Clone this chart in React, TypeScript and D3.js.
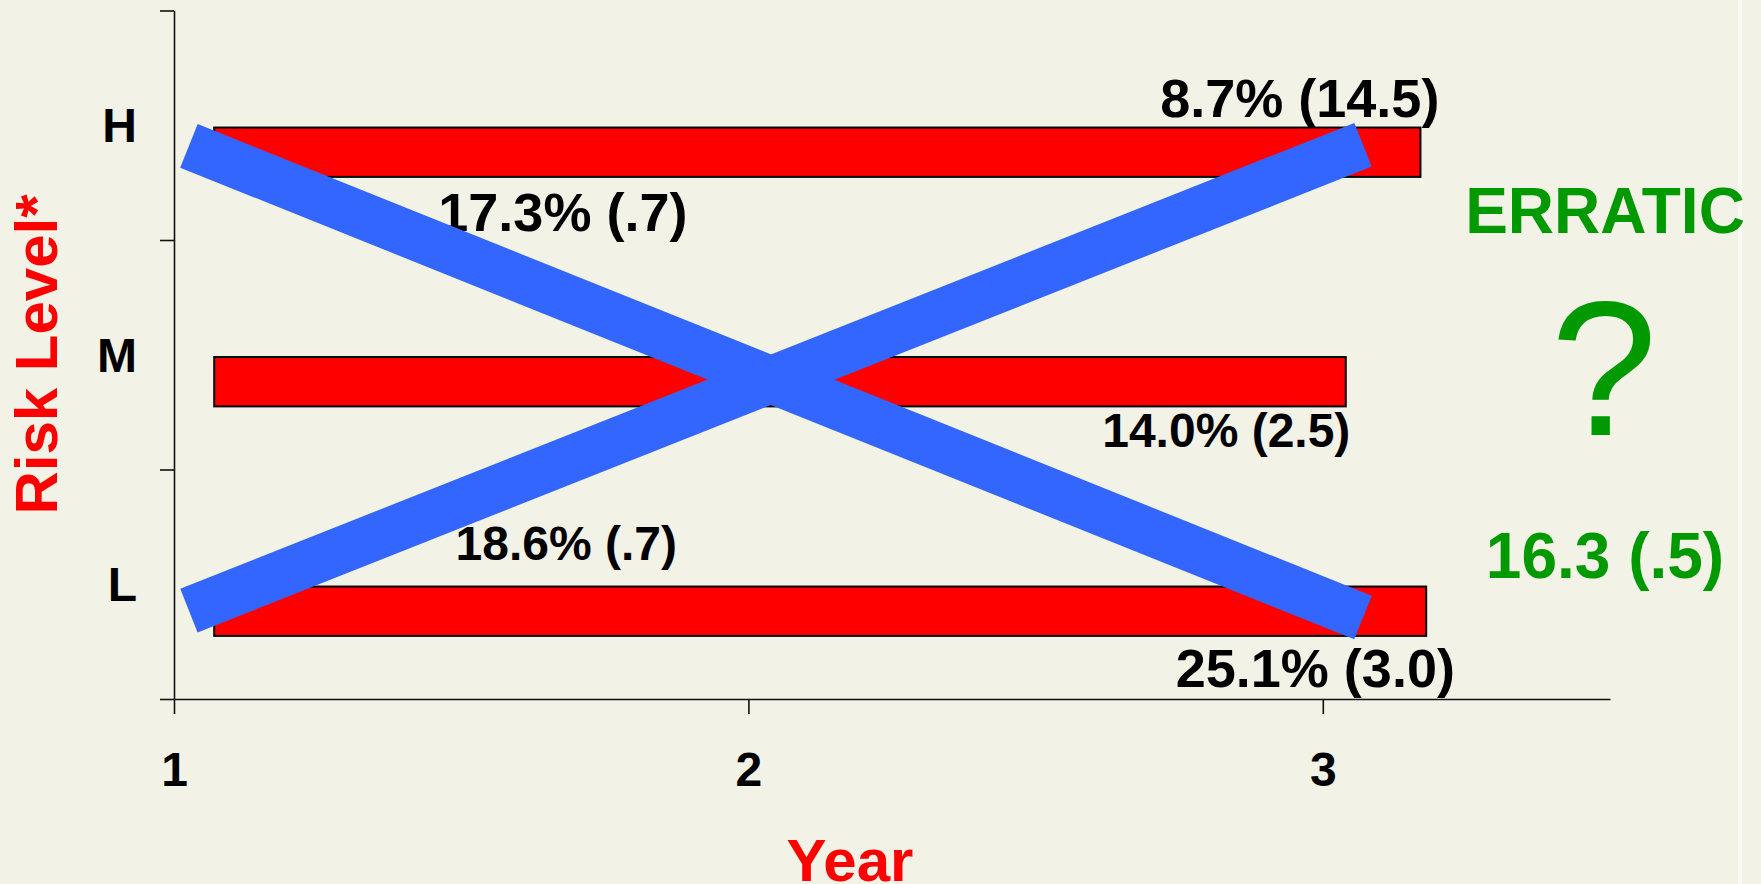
import React, { useEffect, useRef } from 'react';
import * as d3 from 'd3';

// Risk levels on the vertical axis (bottom to top) and their band centres
const levels = ['L', 'M', 'H'];
const levelValues = [0.5, 1.5, 2.5];

// Years on the horizontal axis
const years = [1, 2, 3];

// Horizontal risk bars: start and end year for each level (L, M, H)
const barStart = [1.07, 1.07, 1.07];
const barEnd = [3.18, 3.04, 3.17];

// The two crossing trend strokes, as [year, level] pairs
const fallingLine: [number, number][] = [
  [1.026, 2.41],
  [3.07, 0.355],
];
const risingLine: [number, number][] = [
  [1.026, 0.385],
  [3.07, 2.415],
];

// Rate annotations next to the bars
const rateTexts = ['8.7% (14.5)', '17.3% (.7)', '14.0% (2.5)', '18.6% (.7)', '25.1% (3.0)'];

// Side notes
const verdict = 'ERRATIC';
const verdictMark = '?';
const verdictValue = '16.3 (.5)';

const W = 1761;
const H = 884;
const FONT = "'Liberation Sans', Arial, Helvetica, sans-serif";
const BG = '#F2F2E7';
const RED = '#FF0000';
const BLUE = '#3366FF';
const GREEN = '#009900';

// annotation placement in chart units (year, level) and font size
const rateLayout = [
  { x: 2.96, y: 2.536, size: 54 },
  { x: 1.677, y: 2.04, size: 54 },
  { x: 2.832, y: 1.099, size: 48 },
  { x: 1.683, y: 0.605, size: 48 },
  { x: 2.987, y: 0.052, size: 54 },
];

export default function App() {
  const xAxisRef = useRef<SVGGElement>(null);
  const yAxisRef = useRef<SVGGElement>(null);

  const x = d3.scaleLinear().domain([1, 3.5]).range([174, 1610]);
  const y = d3.scaleLinear().domain([0, 3]).range([699, 10.5]);

  const line = d3
    .line<[number, number]>()
    .x((d) => x(d[0]))
    .y((d) => y(d[1]));

  useEffect(() => {
    if (xAxisRef.current) {
      const g = d3.select(xAxisRef.current);
      g.selectAll('*').remove();
      g.call(
        d3
          .axisBottom(x)
          .tickValues(years)
          .tickFormat((d) => String(d))
          .tickSize(15)
          .tickSizeOuter(0)
          .tickPadding(38)
      );
      g.select('.domain').attr('stroke', '#111').attr('stroke-width', 1.6);
      g.selectAll('.tick line').attr('stroke', '#111').attr('stroke-width', 1.6);
      g.selectAll('.tick text')
        .attr('font-family', FONT)
        .attr('font-weight', 'bold')
        .attr('font-size', 48)
        .attr('fill', '#000');
    }
    if (yAxisRef.current) {
      const g = d3.select(yAxisRef.current);
      g.selectAll('*').remove();
      g.call(
        d3
          .axisLeft(y)
          .tickValues([0, 1, 2, 3])
          .tickFormat(() => '')
          .tickSize(14)
          .tickSizeOuter(0)
      );
      g.select('.domain').attr('stroke', '#111').attr('stroke-width', 1.6);
      g.selectAll('.tick line').attr('stroke', '#111').attr('stroke-width', 1.6);
    }
  }, []);

  const barTop = (v: number) => y(v - 0.01);
  const barBottom = (v: number) => y(v - 0.225);

  return (
    <svg
      width={W}
      height={H}
      viewBox={`0 0 ${W} ${H}`}
      style={{ position: 'absolute', left: 0, top: 0, display: 'block' }}
    >
      <rect x={0} y={0} width={W} height={H} fill={BG} />
      <rect x={1738} y={0} width={4} height={H} fill="#FFFFFF" opacity={0.55} />

      {/* axes */}
      <g ref={yAxisRef} transform={`translate(${x(1)},0)`} />
      <g ref={xAxisRef} transform={`translate(0,${y(0)})`} />

      {/* category labels */}
      {levels.map((lv, i) => (
        <text
          key={lv}
          x={137}
          y={y(levelValues[i])}
          dy="0.35em"
          textAnchor="end"
          fontFamily={FONT}
          fontWeight="bold"
          fontSize={48}
          fill="#000"
        >
          {lv}
        </text>
      ))}

      {/* risk bars */}
      {levels.map((lv, i) => (
        <rect
          key={`bar-${lv}`}
          x={x(barStart[i])}
          y={barTop(levelValues[i])}
          width={x(barEnd[i]) - x(barStart[i])}
          height={barBottom(levelValues[i]) - barTop(levelValues[i])}
          fill={RED}
          stroke="#000"
          strokeWidth={2}
        />
      ))}

      {/* rate annotations */}
      {rateTexts.map((t, i) => (
        <text
          key={t}
          x={x(rateLayout[i].x)}
          y={y(rateLayout[i].y)}
          textAnchor="middle"
          fontFamily={FONT}
          fontWeight="bold"
          fontSize={rateLayout[i].size}
          fill="#000"
        >
          {t}
        </text>
      ))}

      {/* crossing strokes */}
      <path d={line(fallingLine) || ''} stroke={BLUE} strokeWidth={47} fill="none" strokeLinecap="butt" />
      <path d={line(risingLine) || ''} stroke={BLUE} strokeWidth={47} fill="none" strokeLinecap="butt" />

      {/* axis titles */}
      <text
        transform={`translate(57,${354.5}) rotate(-90)`}
        textAnchor="middle"
        fontFamily={FONT}
        fontWeight="bold"
        fontSize={60}
        fill={RED}
      >
        Risk Level*
      </text>
      <text
        x={850}
        y={881}
        textAnchor="middle"
        fontFamily={FONT}
        fontWeight="bold"
        fontSize={60}
        fill={RED}
      >
        Year
      </text>

      {/* side notes */}
      <text x={1605} y={233} textAnchor="middle" fontFamily={FONT} fontWeight="bold" fontSize={64} fill={GREEN}>
        {verdict}
      </text>
      <text x={1604} y={435} textAnchor="middle" fontFamily={FONT} fontSize={192} fill={GREEN}>
        {verdictMark}
      </text>
      <text x={1605} y={578} textAnchor="middle" fontFamily={FONT} fontWeight="bold" fontSize={64} fill={GREEN}>
        {verdictValue}
      </text>
    </svg>
  );
}
